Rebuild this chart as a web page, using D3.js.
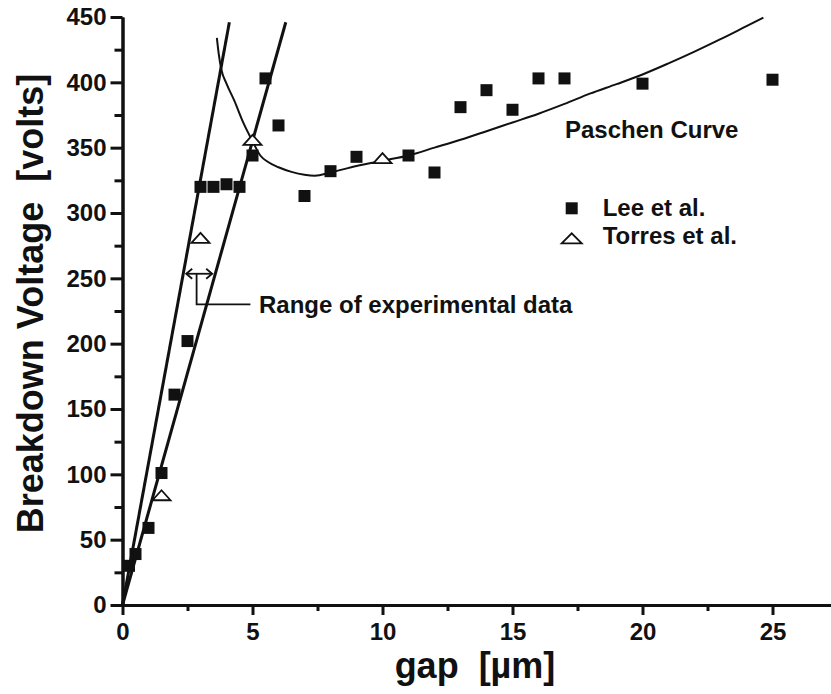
<!DOCTYPE html>
<html>
<head>
<meta charset="utf-8">
<script src="https://cdn.jsdelivr.net/npm/d3@7"></script>
<style>
  body { margin: 0; background: #fff; }
  text { font-family: "Liberation Sans", Arial, sans-serif; font-weight: bold; fill: #111; }
</style>
</head>
<body>
<div id="chart"></div>
<script>
// Lee et al. (filled squares)
const leeGap = [0.25, 0.5, 1, 1.5, 2, 2.5, 3, 3.5, 4, 4.5, 5, 5.5, 6, 7, 8, 9, 11, 12, 13, 14, 15, 16, 17, 20, 25];
const leeV   = [30, 39, 59, 101, 161, 202, 320, 320, 322, 320, 344, 403, 367, 313, 332, 343, 344, 331, 381, 394, 379, 403, 403, 399, 402];
// Torres et al. (open triangles)
const torresGap = [1.5, 3, 5, 10];
const torresV   = [84, 281, 356, 342];
// Paschen curve
const paschenGap = [3.63, 3.7, 3.8, 4.0, 4.3, 4.65, 5.0, 5.3, 5.6, 6.0, 6.5, 7.0, 7.4, 8, 9, 10, 11, 12, 13, 14, 15, 16, 17, 18, 19, 20, 21, 22, 23, 24, 24.65];
const paschenV   = [434, 422, 410, 399, 386, 369, 355, 344, 339, 335, 331.5, 329.3, 328.6, 331, 336, 340, 344, 350, 356, 362.6, 369.3, 376, 383.5, 391.5, 398.6, 406, 414.5, 423.5, 433, 443, 449.5];
// two straight lines through the origin (range of experimental data)
const lineAGap = [0, 4.11], lineAV = [0, 446];
const lineBGap = [0, 6.28], lineBV = [0, 446];
// ticks
const xMajor = [0, 5, 10, 15, 20, 25];
const xMinor = [2.5, 7.5, 12.5, 17.5, 22.5];
const yMajor = [0, 50, 100, 150, 200, 250, 300, 350, 400, 450];
const yMinor = [25, 75, 125, 175, 225, 275, 325, 375, 425];

const W = 831, H = 694;
const svg = d3.select('#chart').append('svg').attr('width', W).attr('height', H);

const x = d3.scaleLinear().domain([0, 27.3]).range([122.5, 832.3]);
const y = d3.scaleLinear().domain([0, 450]).range([605, 17]);

// axes
function styleAxis(g) {
	g.selectAll('path.domain').attr('stroke', '#111').attr('stroke-width', 3);
	g.selectAll('.tick line').attr('stroke', '#111').attr('stroke-width', 3);
	g.selectAll('.tick text').style('font-size', '24px').attr('fill', '#111')
		.style('font-family', '"Liberation Sans", Arial, sans-serif').style('font-weight', 'bold');
}
svg.append('g').attr('transform', 'translate(0,605)')
	.call(d3.axisBottom(x).tickValues(xMinor).tickSize(6).tickSizeOuter(0).tickFormat(''))
	.call(styleAxis);
svg.append('g').attr('transform', 'translate(0,605)')
	.call(d3.axisBottom(x).tickValues(xMajor).tickSize(10).tickSizeOuter(0).tickPadding(8))
	.call(styleAxis);
svg.append('g').attr('transform', 'translate(122.5,0)')
	.call(d3.axisLeft(y).tickValues(yMinor).tickSize(8).tickSizeOuter(0).tickFormat(''))
	.call(styleAxis);
svg.append('g').attr('transform', 'translate(122.5,0)')
	.call(d3.axisLeft(y).tickValues(yMajor).tickSize(12).tickSizeOuter(0).tickPadding(4))
	.call(styleAxis);

// axis titles
svg.append('text').attr('x', 475).attr('y', 678).attr('text-anchor', 'middle')
	.style('font-size', '36px').style('white-space', 'pre').text('gap  [µm]');
svg.append('text').attr('transform', 'translate(42.7,303.5) rotate(-90)').attr('text-anchor', 'middle')
	.style('font-size', '36px').style('white-space', 'pre').text('Breakdown Voltage  [volts]');

const line = d3.line().x(d => x(d[0])).y(d => y(d[1]));
const plot = svg.append('g');

// straight lines
[[lineAGap, lineAV], [lineBGap, lineBV]].forEach(function (l) {
	plot.append('path').datum(d3.zip(l[0], l[1])).attr('d', line)
		.attr('fill', 'none').attr('stroke', '#111').attr('stroke-width', 3);
});

// Paschen curve
plot.append('path').datum(d3.zip(paschenGap, paschenV))
	.attr('d', d3.line().x(d => x(d[0])).y(d => y(d[1])).curve(d3.curveMonotoneX))
	.attr('fill', 'none').attr('stroke', '#111').attr('stroke-width', 2);

// Lee squares
const sq = 12;
plot.selectAll('rect.lee').data(d3.zip(leeGap, leeV)).enter().append('rect')
	.attr('class', 'lee')
	.attr('x', d => x(d[0]) - sq / 2).attr('y', d => y(d[1]) - sq / 2)
	.attr('width', sq).attr('height', sq).attr('fill', '#111');

// Torres triangles
const tri = 'M-9,5 L9,5 L0,-5 Z';
plot.selectAll('path.torres').data(d3.zip(torresGap, torresV)).enter().append('path')
	.attr('class', 'torres')
	.attr('transform', d => `translate(${x(d[0])},${y(d[1])})`)
	.attr('d', tri).attr('fill', '#fff').attr('stroke', '#111').attr('stroke-width', 1.8);

// range annotation: double arrow + leader
const arrV = 253.5, arrGap = [2.45, 3.45];
const ann = svg.append('g').attr('stroke', '#111').attr('fill', 'none').attr('stroke-width', 1.8);
const ax1 = x(arrGap[0]), ax2 = x(arrGap[1]), ay = y(arrV);
ann.append('line').attr('x1', ax1).attr('x2', ax2).attr('y1', ay).attr('y2', ay);
ann.append('path').attr('d', `M${ax1 + 6},${ay - 5} L${ax1},${ay} L${ax1 + 6},${ay + 5}`);
ann.append('path').attr('d', `M${ax2 - 6},${ay - 5} L${ax2},${ay} L${ax2 - 6},${ay + 5}`);
ann.append('path').attr('d', `M${x(2.85)},${ay} L${x(2.85)},${y(230)} L${x(4.92)},${y(230)}`);
svg.append('text').attr('x', x(5.25)).attr('y', 313).style('font-size', '24px').text('Range of experimental data');

// labels
svg.append('text').attr('x', 565).attr('y', 138).style('font-size', '24px').text('Paschen Curve');

// legend
const legend = svg.append('g');
legend.append('rect').attr('x', 571.7 - 6).attr('y', 208.3 - 6).attr('width', 12).attr('height', 12).attr('fill', '#111');
legend.append('text').attr('x', 602.7).attr('y', 216).style('font-size', '24px').text('Lee et al.');
legend.append('path').attr('transform', 'translate(571.7,238.3)').attr('d', 'M-10,5 L10,5 L0,-5 Z')
	.attr('fill', '#fff').attr('stroke', '#111').attr('stroke-width', 1.8);
legend.append('text').attr('x', 602.7).attr('y', 244.3).style('font-size', '24px').text('Torres et al.');
</script>
</body>
</html>
